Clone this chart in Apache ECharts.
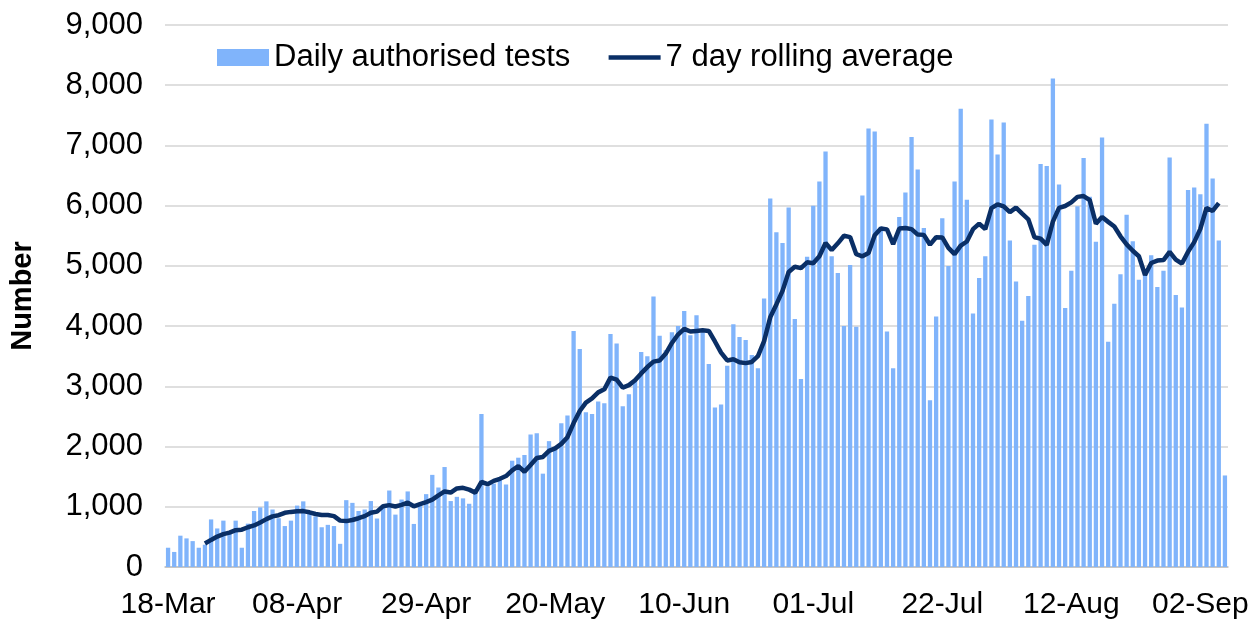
<!DOCTYPE html>
<html>
<head>
<meta charset="utf-8">
<script src="https://cdn.jsdelivr.net/npm/echarts@6/dist/echarts.min.js"></script>
<style>
  html, body { margin: 0; padding: 0; background: #fff; }
  #main { width: 1254px; height: 620px; }
</style>
</head>
<body>
<div id="main"></div>
<script>
// daily authorised tests, one value per day from 18-Mar
const dailyTests = [
  320, 250, 520, 475, 430, 320, 370, 790, 640, 770,
  600, 770, 320, 720, 930, 990, 1090, 955, 810, 680,
  770, 1020, 1090, 930, 840, 660, 700, 680, 385, 1110,
  1065, 930, 955, 1095, 805, 990, 1270, 870, 1120, 1255,
  715, 1060, 1210, 1530, 1320, 1660, 1095, 1165, 1140, 1050,
  1230, 2540, 1340, 1385, 1455, 1370, 1765, 1815, 1860, 2200,
  2220, 1550, 2090, 1985, 2385, 2515, 3920, 3620, 2570, 2540,
  2750, 2720, 3870, 3710, 2670, 2870, 3100, 3570, 3500, 4490,
  3840, 3600, 3900, 4000, 4250, 3850, 4180, 3900, 3370, 2650,
  2700, 3340, 4030, 3820, 3770, 3520, 3300, 4460, 6120, 5560,
  5380, 5970, 4120, 3120, 5150, 6000, 6400, 6900, 5160, 4880,
  4000, 5015, 3990, 6170, 7280, 7230, 5650, 3910, 3300, 5810,
  6220, 7140, 6600, 5630, 2770, 4160, 5790, 5000, 6400, 7610,
  6100, 4210, 4800, 5160, 7430, 6850, 7380, 5420, 4740, 4090,
  4500, 5350, 6690, 6660, 8110, 6350, 4300, 4920, 5990, 6790,
  6150, 5400, 7130, 3740, 4370, 4860, 5850, 5410, 4770, 4900,
  5175, 4650, 4920, 6800, 4515, 4310, 6260, 6300, 6190, 7360,
  6450, 5420, 1520
]

// 7 day rolling average, first point on 24-Mar, last one the day before the final bar
const rollingAvg = [
  null, null, null, null, null, null,
  390, 450, 505, 545, 570, 612, 620, 660, 690, 740,
  795, 840, 860, 900, 915, 925, 928, 908, 880, 862,
  862, 845, 770, 762, 780, 810, 845, 900, 920, 1010,
  1028, 1005, 1032, 1070, 1008, 1045, 1078, 1120, 1190, 1255,
  1236, 1305, 1315, 1285, 1235, 1415, 1375, 1430, 1465, 1510,
  1605, 1675, 1582, 1694, 1810, 1827, 1928, 1970, 2045, 2155,
  2390, 2590, 2730, 2800, 2900, 2950, 3145, 3110, 2980, 3020,
  3100, 3215, 3320, 3410, 3430, 3545, 3720, 3860, 3955, 3910,
  3920, 3930, 3920, 3745, 3560, 3430, 3450, 3400, 3385, 3405,
  3500, 3750, 4146, 4360, 4585, 4900, 4985, 4962, 5060, 5045,
  5160, 5380, 5265, 5375, 5500, 5478, 5195, 5160, 5215, 5510,
  5622, 5606, 5362, 5620, 5628, 5610, 5520, 5515, 5352, 5476,
  5473, 5300, 5195, 5337, 5405, 5610, 5700, 5612, 5958, 6023,
  5990, 5893, 5968, 5867, 5773, 5476, 5453, 5350, 5734, 5964,
  5994, 6054, 6146, 6160, 6092, 5700, 5811, 5731, 5653, 5491,
  5357, 5251, 5161, 4848, 5048, 5088, 5096, 5232, 5104, 5039,
  5233, 5394, 5614, 5962, 5912, 6041, null
]

const yTicks = [0, 1000, 2000, 3000, 4000, 5000, 6000, 7000, 8000, 9000]

// one category per day, labelled dd-Mon
const months = ['Jan', 'Feb', 'Mar', 'Apr', 'May', 'Jun', 'Jul', 'Aug', 'Sep', 'Oct', 'Nov', 'Dec']
const days = []
for (let i = 0; i < dailyTests.length; i++) {
  const d = new Date(Date.UTC(2020, 2, 18 + i))
  days.push(String(d.getUTCDate()).padStart(2, '0') + '-' + months[d.getUTCMonth()])
}

const font = '"Liberation Sans", Arial, sans-serif'
const navy = '#0a2f66'

const myChart = echarts.init(document.getElementById('main'))

const option = {
  animation: false,
  grid: {
    left: 165,
    right: 26,
    top: 25,
    bottom: 53,
    containLabel: false
  },
  legend: {
    left: 212,
    top: 37,
    itemWidth: 52,
    itemHeight: 17,
    itemGap: 36,
    textStyle: { fontFamily: font, fontSize: 31, color: '#000' },
    data: [
      { name: 'Daily authorised tests', icon: 'rect' },
      {
        name: '7 day rolling average',
        lineStyle: { width: 4.5, color: navy },
        itemStyle: { opacity: 0 }
      }
    ]
  },
  xAxis: {
    type: 'category',
    data: days,
    boundaryGap: true,
    axisLine: { lineStyle: { color: '#bfbfbf', width: 1.5 } },
    axisTick: {
      interval: (i) => i % 21 === 0,
      length: 7,
      lineStyle: { color: '#bfbfbf', width: 1.5 }
    },
    axisLabel: {
      interval: (i) => i % 21 === 0,
      margin: 23,
      fontFamily: font,
      fontSize: 30,
      color: '#000'
    }
  },
  yAxis: {
    type: 'value',
    min: yTicks[0],
    max: yTicks[yTicks.length - 1],
    interval: 1000,
    name: 'Number',
    nameLocation: 'middle',
    nameGap: 128,
    nameTextStyle: { fontFamily: font, fontSize: 29, fontWeight: 'bold', color: '#000' },
    axisLine: { show: false },
    axisTick: { show: false },
    axisLabel: {
      margin: 22,
      fontFamily: font,
      fontSize: 31,
      color: '#000',
      formatter: (v) => v.toLocaleString('en-GB')
    },
    splitLine: { lineStyle: { color: '#d4d4d4', width: 1.5 } }
  },
  series: [
    {
      name: 'Daily authorised tests',
      type: 'bar',
      data: dailyTests,
      barCategoryGap: '30%',
      itemStyle: { color: '#80b4fb' }
    },
    {
      name: '7 day rolling average',
      type: 'line',
      data: rollingAvg,
      symbol: 'none',
      showSymbol: false,
      connectNulls: false,
      lineStyle: { color: navy, width: 4.5 },
      itemStyle: { color: navy }
    }
  ]
}

option && myChart.setOption(option)
</script>
</body>
</html>
